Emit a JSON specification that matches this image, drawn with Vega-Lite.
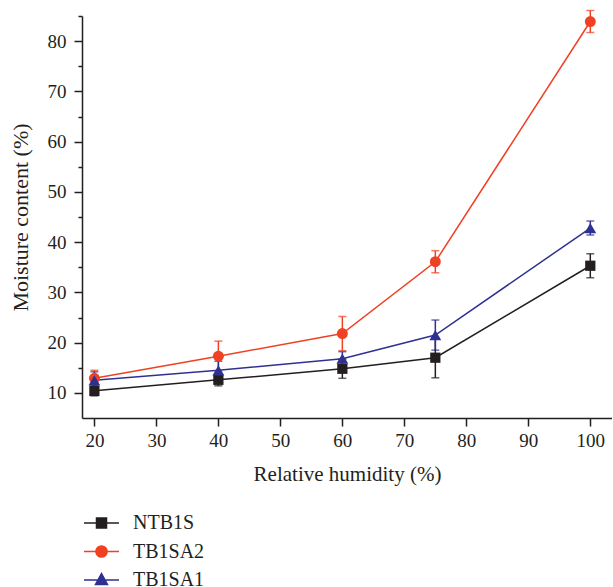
{
  "$schema": "https://vega.github.io/schema/vega-lite/v6.json",
  "autosize": {"type": "none"},
  "padding": {"left": 82, "top": 16, "right": 0, "bottom": 169},
  "width": 530,
  "height": 402,
  "background": "white",
  "config": {
    "view": {"stroke": null},
    "font": "Liberation Serif",
    "axis": {
      "domainColor": "#231f20",
      "domainWidth": 1.5,
      "tickColor": "#231f20",
      "tickWidth": 1.5,
      "labelFont": "Liberation Serif",
      "labelFontSize": 19,
      "labelColor": "#231f20",
      "titleFont": "Liberation Serif",
      "titleFontWeight": "normal",
      "titleColor": "#231f20",
      "grid": false
    }
  },
  "data": {
    "values": [
      {"rh": 20, "series": "NTB1S", "mc": 10.4, "err": 1.0},
      {"rh": 40, "series": "NTB1S", "mc": 12.6, "err": 1.2},
      {"rh": 60, "series": "NTB1S", "mc": 14.8, "err": 1.9},
      {"rh": 75, "series": "NTB1S", "mc": 17.0, "err": 4.0},
      {"rh": 100, "series": "NTB1S", "mc": 35.3, "err": 2.4},
      {"rh": 20, "series": "TB1SA2", "mc": 12.9, "err": 1.6},
      {"rh": 40, "series": "TB1SA2", "mc": 17.3, "err": 3.0},
      {"rh": 60, "series": "TB1SA2", "mc": 21.8, "err": 3.4},
      {"rh": 75, "series": "TB1SA2", "mc": 36.1, "err": 2.2},
      {"rh": 100, "series": "TB1SA2", "mc": 83.9, "err": 2.2},
      {"rh": 20, "series": "TB1SA1", "mc": 12.5, "err": 1.7},
      {"rh": 40, "series": "TB1SA1", "mc": 14.5, "err": 1.8},
      {"rh": 60, "series": "TB1SA1", "mc": 16.8, "err": 1.4},
      {"rh": 75, "series": "TB1SA1", "mc": 21.5, "err": 3.0},
      {"rh": 100, "series": "TB1SA1", "mc": 42.8, "err": 1.4}
    ]
  },
  "encoding": {
    "x": {
      "field": "rh",
      "type": "quantitative",
      "scale": {"domain": [18, 103.5], "nice": false, "zero": false},
      "axis": {
        "title": "Relative humidity (%)",
        "titleFontSize": 21,
        "values": [20, 30, 40, 50, 60, 70, 80, 90, 100],
        "tickSize": 8,
        "labelPadding": 5,
        "titlePadding": 13
      }
    },
    "y": {
      "field": "mc",
      "type": "quantitative",
      "scale": {"domain": [5, 85], "nice": false, "zero": false},
      "axis": {
        "title": "Moisture content (%)",
        "titleFontSize": 22,
        "values": [10, 15, 20, 25, 30, 35, 40, 45, 50, 55, 60, 65, 70, 75, 80, 85],
        "labelExpr": "datum.value % 10 === 0 ? datum.label : ''",
        "tickSize": {"condition": {"test": "datum.value % 10 === 0", "value": 8}, "value": 4},
        "labelPadding": 8,
        "titlePadding": 15
      }
    },
    "color": {
      "field": "series",
      "type": "nominal",
      "scale": {
        "domain": ["NTB1S", "TB1SA2", "TB1SA1"],
        "range": ["#231f20", "#ef4123", "#2e3192"]
      },
      "legend": {
        "title": null,
        "orient": "none",
        "legendX": 8.5,
        "legendY": 496,
        "labelFont": "Liberation Serif",
        "labelFontSize": 20,
        "labelColor": "#231f20",
        "labelOffset": 20.5,
        "symbolSize": 400,
        "symbolStrokeWidth": 1.5,
        "rowPadding": 7.5,
        "padding": 0,
        "encode": {
          "symbols": {
            "update": {
              "shape": {"signal": "datum.value === 'NTB1S' ? 'M-1.75,0H1.75M-0.5,-0.5H0.5V0.5H-0.5Z' : datum.value === 'TB1SA2' ? 'M-1.75,0H1.75M-0.56,0A0.56,0.56 0 1,0 0.56,0A0.56,0.56 0 1,0 -0.56,0Z' : 'M-1.75,0H1.75M0,-0.64L0.6,0.46H-0.6Z'"},
              "fill": {"scale": "color", "field": "value"},
              "stroke": {"scale": "color", "field": "value"},
              "fillOpacity": {"value": 1},
              "strokeOpacity": {"value": 1},
              "opacity": {"value": 1}
            }
          }
        }
      }
    }
  },
  "layer": [
    {
      "mark": {"type": "line", "strokeWidth": 1.5}
    },
    {
      "mark": {
        "type": "errorbar",
        "ticks": {"size": 8, "thickness": 1.5},
        "rule": {"strokeWidth": 1.5}
      },
      "encoding": {
        "y": {"field": "mc", "type": "quantitative"},
        "yError": {"field": "err"}
      }
    },
    {
      "transform": [{"filter": "datum.series === 'NTB1S'"}],
      "mark": {"type": "point", "shape": "square", "filled": true, "opacity": 1, "size": 105}
    },
    {
      "transform": [{"filter": "datum.series === 'TB1SA2'"}],
      "mark": {"type": "point", "shape": "circle", "filled": true, "opacity": 1, "size": 120}
    },
    {
      "transform": [{"filter": "datum.series === 'TB1SA1'"}],
      "mark": {"type": "point", "shape": "triangle-up", "filled": true, "opacity": 1, "size": 140}
    }
  ]
}
